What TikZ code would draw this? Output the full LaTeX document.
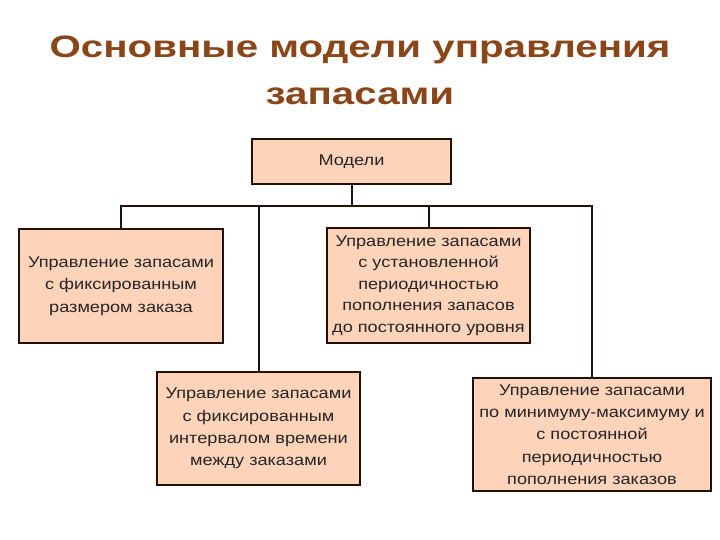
\documentclass[tikz,border=0pt]{standalone}
\usepackage{fontspec}
\setmainfont{Liberation Sans}[FakeStretch=1.17]
\newfontfamily\headfont{Liberation Sans}[FakeStretch=1.3]
\usepackage{xcolor}
\usetikzlibrary{positioning}
\definecolor{mTitleBrown}{HTML}{8A4518}
\definecolor{mPeach}{HTML}{FDD3BA}
\definecolor{mEdge}{HTML}{231008}
\definecolor{mText}{HTML}{262626}

\begin{document}
\begin{tikzpicture}[x=1pt,y=-1pt,draw=mEdge,line width=2pt]
  \tikzstyle{title}=[font=\headfont\fontsize{31}{47}\selectfont\bfseries,text=mTitleBrown,align=center]
  \tikzstyle{model}=[draw,fill=mPeach,text=mText,align=center,inner sep=2pt,
                     font=\fontsize{15.5}{22.3}\selectfont]
  \useasboundingbox (0,0) rectangle (720,540);

  % Draw the heading
  \node[title] (T) at (360,70) {Основные модели управления\\запасами};

  % Draw the root node
  \node[model, minimum width=199pt, minimum height=45pt] (M) at (351.5,161.5) {Модели};

  % Draw the model nodes
  \node[model, minimum width=204pt, minimum height=114pt] (B-1) at (121,286)
    {Управление запасами\\с фиксированным\\размером заказа};
  \node[model, minimum width=203pt, minimum height=115pt,
        font=\fontsize{15.5}{21.5}\selectfont] (B-2) at (428.5,285.5)
    {Управление запасами\\с установленной\\периодичностью\\пополнения запасов\\до постоянного уровня};
  \node[model, minimum width=203pt, minimum height=113pt] (B-3) at (258.5,428.5)
    {Управление запасами\\с фиксированным\\интервалом времени\\между заказами};
  \node[model, minimum width=238pt, minimum height=113pt] (B-4) at (592,434.5)
    {Управление запасами\\по минимуму-максимуму и\\с постоянной\\периодичностью\\пополнения заказов};

  % Connect root -> bus -> models
  \coordinate (bus) at (351.5,206);
  \draw (M.south) -- (bus);
  \draw (B-1.north) |- (bus) -| (B-4.north);
  \foreach \dest in {2,3}
    \draw (B-\dest.north) -- (B-\dest.north |- bus);
\end{tikzpicture}
\end{document}
